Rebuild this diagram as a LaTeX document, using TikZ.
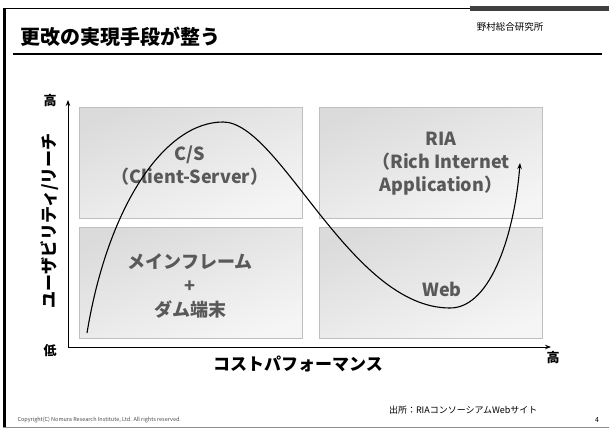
\documentclass[tikz,border=0pt]{standalone}
\usepackage{fontspec}
\setmainfont{Noto Sans CJK JP}
\usetikzlibrary{arrows.meta}

\tikzset{
  cell/.style={draw=black!25, top color=black!14, bottom color=black!4,
    shading angle=20, minimum width=223, minimum height=111, inner sep=0pt},
  celltext/.style={text=black!65, align=center,
    font=\fontsize{18}{23}\selectfont\bfseries},
  axislabel/.style={font=\fontsize{17}{20}\selectfont\bfseries},
  endlabel/.style={font=\fontsize{13}{15}\selectfont\bfseries},
}

\begin{document}
\begin{tikzpicture}[x=1pt,y=-1pt,>={Stealth[length=6pt,width=4.5pt]}]
\useasboundingbox (0,0) rectangle (609,428);

% page frame
\draw[line width=3pt] (4.5,8) -- (4.5,428);
\draw[line width=1.5pt] (3,8.5) -- (470,8.5);
\draw[line width=4.5pt,black!75] (470,8.5) -- (609,8.5);
\draw[line width=1pt,black!45] (3,427) -- (609,427);
\draw[line width=1.2pt] (13,54) -- (602,54);

\node[anchor=west,font=\fontsize{20}{24}\selectfont\bfseries] (title) at (17,37) {更改の実現手段が整う};
\node[font=\fontsize{9.5}{11}\selectfont] (nri) at (510,27) {野村総合研究所};

% quadrants
\node[cell] (cs)  at (190.5,162.5) {};
\node[cell] (mf)  at (190.5,282.5) {};
\node[cell] (ria) at (431,162.5) {};
\node[cell] (web) at (431,282.5) {};

\node[celltext] (cst)  at (190,166) {C/S\\（Client-Server）};
\node[celltext,font=\fontsize{18}{24}\selectfont\bfseries] (mft) at (190,286) {メインフレーム\\+\\ダム端末};
\node[celltext] (riat) at (441,164) {RIA\\（Rich Internet\\Application）};
\node[celltext] (webt) at (442,289) {Web};

% axes
\coordinate (o) at (68,347);
\coordinate (ytip) at (68,100);
\coordinate (xtip) at (551,347);
\draw[line width=1pt,->] (o) -- (ytip);
\draw[line width=1pt,->] (o) -- (xtip);

\node[endlabel] (yhi) at (50,101) {高};
\node[endlabel] (lo) at (50,351) {低};
\node[endlabel] (xhi) at (553,358) {高};
\node[axislabel,rotate=90] (ylab) at (50,221) {ユーザビリティ/リーチ};
\node[axislabel] (xlab) at (298,364) {コストパフォーマンス};

% trend curve
\coordinate (c0) at (87,333);
\coordinate (peak) at (223,122);
\coordinate (low) at (450,308);
\coordinate (c1) at (520,163);
\draw[line width=1.1pt,->] (c0) .. controls (108,205) and (165,122) .. (peak)
  .. controls (280,122) and (350,308) .. (low)
  .. controls (492,308) and (515,230) .. (c1);

\node[anchor=east,font=\fontsize{9}{11}\selectfont] (src) at (541,410) {出所：RIAコンソーシアムWebサイト};
\node[anchor=west,font=\fontsize{5.5}{6}\selectfont,text=black!70] (copy) at (14,420) {Copyright(C) Nomura Research Institute, Ltd. All rights reserved.};
\node[font=\fontsize{7}{8}\selectfont] (pg) at (597,420) {4};
\end{tikzpicture}
\end{document}
